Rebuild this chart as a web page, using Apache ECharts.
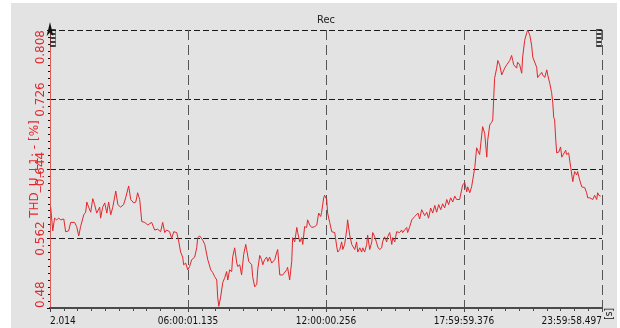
<!DOCTYPE html>
<html>
<head>
<meta charset="utf-8">
<script src="https://cdn.jsdelivr.net/npm/echarts@6/dist/echarts.min.js"></script>
<style>
  html, body { margin: 0; padding: 0; background: #ffffff; }
  #chart { position: absolute; left: 11px; top: 3px; width: 606px; height: 325px; }
</style>
</head>
<body>
<div id="chart"></div>
<script>
// Recording time, hours from start of the record
const hours = [
  0.03,0.12,0.20,0.29,0.38,0.47,0.60,0.68,0.81,0.90,
  1.07,1.16,1.25,1.33,1.47,1.55,1.60,1.68,1.77,1.86,
  1.94,2.03,2.16,2.20,2.29,2.38,2.47,2.55,2.64,2.73,
  2.86,2.95,3.07,3.20,3.29,3.42,3.51,3.64,3.73,3.81,
  3.90,3.99,4.12,4.25,4.42,4.55,4.68,4.81,4.90,4.99,
  5.07,5.20,5.29,5.38,5.51,5.55,5.60,5.68,5.77,5.81,
  5.90,5.99,6.07,6.16,6.29,6.38,6.42,6.51,6.64,6.73,
  6.86,6.99,7.07,7.16,7.25,7.29,7.34,7.42,7.51,7.60,
  7.68,7.73,7.81,7.90,7.94,8.03,8.12,8.16,8.25,8.33,
  8.42,8.51,8.55,8.64,8.77,8.81,8.90,8.99,9.03,9.12,
  9.20,9.25,9.33,9.42,9.47,9.55,9.64,9.68,9.77,9.86,
  9.90,9.99,10.07,10.12,10.20,10.29,10.33,10.42,10.51,10.55,
  10.64,10.73,10.77,10.86,10.94,10.99,11.07,11.16,11.20,11.29,
  11.38,11.51,11.60,11.68,11.77,11.81,11.90,11.94,12.03,12.07,
  12.16,12.25,12.29,12.38,12.47,12.51,12.60,12.68,12.73,12.81,
  12.90,12.94,13.03,13.12,13.16,13.25,13.33,13.38,13.47,13.55,
  13.60,13.68,13.77,13.81,13.90,13.99,14.03,14.12,14.20,14.25,
  14.33,14.42,14.46,14.55,14.64,14.68,14.77,14.86,14.90,14.99,
  15.07,15.20,15.29,15.33,15.42,15.51,15.55,15.64,15.73,15.77,
  15.86,16.00,16.07,16.16,16.29,16.38,16.46,16.55,16.64,16.73,
  16.81,16.90,16.99,17.07,17.16,17.25,17.33,17.42,17.51,17.60,
  17.68,17.81,17.94,18.03,18.12,18.16,18.25,18.33,18.38,18.47,
  18.55,18.60,18.68,18.77,18.81,18.90,18.99,19.03,19.12,19.20,
  19.25,19.33,19.42,19.47,19.55,19.64,19.68,19.77,19.86,19.90,
  19.99,20.07,20.12,20.16,20.20,20.29,20.33,20.42,20.51,20.55,
  20.64,20.73,20.77,20.86,20.94,20.99,21.07,21.16,21.20,21.29,
  21.38,21.42,21.51,21.60,21.64,21.73,21.81,21.86,21.90,21.94,
  21.99,22.03,22.12,22.20,22.25,22.33,22.42,22.46,22.55,22.64,
  22.68,22.73,22.81,22.90,22.94,23.03,23.12,23.16,23.25,23.33,
  23.38,23.47,23.55,23.60,23.68,23.77,23.81,23.86,23.94
];

// THD of voltage U_L1, %
const thd = [
  0.599,0.571,0.586,0.584,0.586,0.584,0.585,0.570,0.571,0.581,
  0.581,0.576,0.565,0.576,0.590,0.593,0.605,0.599,0.593,0.609,
  0.602,0.592,0.599,0.586,0.599,0.604,0.592,0.605,0.590,0.599,
  0.618,0.602,0.599,0.602,0.610,0.624,0.608,0.604,0.605,0.616,
  0.608,0.582,0.581,0.578,0.581,0.572,0.573,0.570,0.581,0.569,
  0.572,0.570,0.562,0.570,0.569,0.570,0.558,0.546,0.540,0.531,
  0.533,0.525,0.529,0.537,0.540,0.551,0.563,0.565,0.560,0.555,
  0.537,0.525,0.522,0.517,0.513,0.493,0.482,0.493,0.510,0.516,
  0.523,0.513,0.525,0.523,0.540,0.551,0.533,0.529,0.531,0.519,
  0.543,0.555,0.549,0.535,0.531,0.517,0.505,0.508,0.525,0.542,
  0.537,0.531,0.537,0.540,0.535,0.540,0.533,0.531,0.537,0.546,
  0.549,0.519,0.518,0.519,0.517,0.525,0.528,0.513,0.535,0.563,
  0.558,0.575,0.569,0.558,0.563,0.555,0.576,0.575,0.584,0.578,
  0.575,0.576,0.578,0.592,0.588,0.593,0.610,0.613,0.608,0.592,
  0.581,0.570,0.569,0.569,0.552,0.546,0.549,0.558,0.549,0.555,
  0.572,0.584,0.566,0.555,0.557,0.549,0.558,0.546,0.551,0.546,
  0.551,0.546,0.555,0.566,0.549,0.558,0.569,0.564,0.557,0.552,
  0.549,0.551,0.558,0.564,0.558,0.564,0.569,0.555,0.563,0.558,
  0.570,0.569,0.572,0.569,0.572,0.575,0.569,0.576,0.584,0.586,
  0.588,0.592,0.585,0.596,0.589,0.593,0.586,0.598,0.592,0.601,
  0.593,0.602,0.596,0.603,0.598,0.608,0.602,0.610,0.605,0.612,
  0.608,0.608,0.625,0.628,0.617,0.623,0.616,0.623,0.631,0.646,
  0.669,0.669,0.661,0.684,0.694,0.686,0.658,0.678,0.696,0.699,
  0.702,0.751,0.763,0.772,0.767,0.755,0.755,0.763,0.767,0.769,
  0.772,0.778,0.772,0.767,0.769,0.763,0.770,0.767,0.757,0.776,
  0.796,0.805,0.808,0.802,0.790,0.776,0.775,0.764,0.752,0.755,
  0.758,0.755,0.752,0.761,0.755,0.745,0.734,0.722,0.705,0.702,
  0.678,0.663,0.664,0.670,0.658,0.657,0.666,0.661,0.663,0.646,
  0.645,0.629,0.641,0.637,0.641,0.631,0.623,0.622,0.622,0.616,
  0.610,0.610,0.611,0.608,0.613,0.608,0.616,0.613,0.612
];

// Time axis labels, one per 6 h major tick
const xTickLabels = ['2.014', '06:00:01.135', '12:00:00.256', '17:59:59.376', '23:59:58.497'];
// THD axis ticks
const yTicks = [0.48, 0.562, 0.644, 0.726, 0.808];
// Cursor handles at the record start and end
const cursorHours = [0, 24];

const RED = '#e2262c';
const narrowFamily = '"DejaVu Sans Condensed", "Liberation Sans", sans-serif';
const yMin = yTicks[0];
const yMax = yTicks[yTicks.length - 1];
const yStep = +(yTicks[1] - yTicks[0]).toFixed(3);

const chart = echarts.init(document.getElementById('chart'), null, { renderer: 'canvas' });

chart.setOption({
  animation: false,
  backgroundColor: '#e3e3e3',
  grid: { left: 39, right: 15, top: 27, bottom: 20 },
  xAxis: [
    {
      type: 'value',
      min: 0,
      max: 24,
      interval: 6,
      axisLine: { show: true, onZero: false, lineStyle: { color: '#4a4a4a', width: 2 } },
      axisTick: { show: true, length: 4, lineStyle: { color: '#4a4a4a' } },
      minorTick: { show: true, splitNumber: 10, length: 3, lineStyle: { color: '#4a4a4a' } },
      splitLine: { show: true, lineStyle: { color: '#555555', type: [10, 5], width: 1 } },
      axisLabel: {
        formatter: v => xTickLabels[Math.round(v / 6)],
        fontFamily: narrowFamily,
        fontSize: 10,
        color: '#111111',
        margin: 8,
        alignMinLabel: 'left',
        alignMaxLabel: 'right'
      },
      name: '[s]',
      nameLocation: 'end',
      nameGap: 6,
      nameRotate: 90,
      nameTextStyle: { fontFamily: narrowFamily, fontSize: 10, color: '#111111', align: 'right', verticalAlign: 'middle' }
    },
    {
      type: 'value',
      position: 'top',
      min: 0,
      max: 24,
      axisLine: { show: false },
      axisTick: { show: false },
      axisLabel: { show: false },
      splitLine: { show: false },
      name: 'Rec',
      nameLocation: 'middle',
      nameGap: 4,
      nameTextStyle: { fontFamily: narrowFamily, fontSize: 11, color: '#222222' }
    }
  ],
  yAxis: [
    {
      type: 'value',
      min: yMin,
      max: yMax,
      interval: yStep,
      axisLine: {
        show: true,
        lineStyle: { color: '#111111', width: 1 },
        symbol: ['none', 'arrow'],
        symbolSize: [5, 14],
        symbolOffset: [0, 8]
      },
      axisTick: { show: true, length: 3, lineStyle: { color: '#111111' } },
      minorTick: { show: true, splitNumber: 10, length: 2, lineStyle: { color: '#111111' } },
      splitLine: { show: true, lineStyle: { color: '#1a1a1a', type: [6, 3], width: 1 } },
      axisLabel: {
        rotate: 90,
        color: RED,
        fontFamily: '"DejaVu Sans", sans-serif',
        fontSize: 12,
        margin: 3,
        formatter: v => String(+v.toFixed(3)),
        alignMinLabel: 'left',
        alignMaxLabel: 'right'
      },
      name: 'THD_U_L1: - [%]',
      nameLocation: 'middle',
      nameGap: 9,
      nameMoveOverlap: false,
      nameTextStyle: { color: RED, fontFamily: '"DejaVu Sans", sans-serif', fontSize: 12 }
    },
    {
      type: 'value',
      position: 'right',
      min: yMin,
      max: yMax,
      interval: yStep,
      axisLine: { show: true, lineStyle: { color: '#e05a5a', width: 1 } },
      axisTick: { show: false },
      axisLabel: { show: false },
      splitLine: { show: false }
    }
  ],
  series: [
    {
      name: 'THD_U_L1',
      type: 'line',
      data: hours.map((h, i) => [h, thd[i]]),
      showSymbol: false,
      symbol: 'none',
      lineStyle: { color: RED, width: 1 },
      z: 3
    },
    {
      name: 'cursors',
      type: 'scatter',
      symbol: 'path://M0 0H4V16H0Z M0 4H4 M0 8H4 M0 12H4',
      symbolSize: [5, 16],
      itemStyle: { color: 'rgba(0,0,0,0)', borderColor: '#111111', borderWidth: 1 },
      data: cursorHours.map((h, i) => ({
        value: [h, yMax],
        symbolOffset: [i === 0 ? 3 : -3, 8]
      })),
      z: 4,
      silent: true
    }
  ]
});
</script>
</body>
</html>
